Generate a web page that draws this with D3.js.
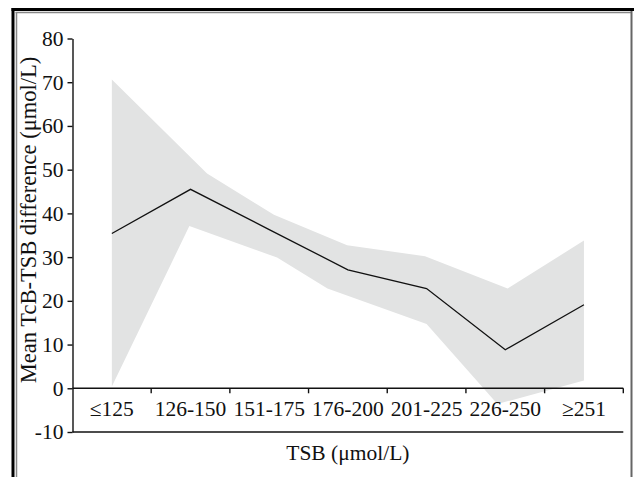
<!DOCTYPE html>
<html>
<head>
<meta charset="utf-8">
<script src="https://cdn.jsdelivr.net/npm/d3@7"></script>
<style>
  html, body { margin: 0; padding: 0; background: #fff; }
  svg { display: block; }
  text { font-family: "Liberation Serif", "Times New Roman", serif; fill: #111; }
</style>
</head>
<body>
<svg id="chart" width="634" height="477"></svg>
<script>
// ---- data ----
const categories = ["\u2264125", "126-150", "151-175", "176-200", "201-225", "226-250", "\u2265251"];
const meanValues = [35.4, 45.5, 36.3, 27.1, 22.8, 8.8, 19.1];
// confidence band vertices (position in category-index units, value)
const upperPos = [0, 1.21, 2.06, 2.99, 3.98, 5.03, 6];
const upperValues = [70.6, 49.1, 39.7, 32.7, 30.2, 22.8, 33.8];
const lowerPos = [0, 0.985, 2.1, 2.74, 4.0, 4.9, 6];
const lowerValues = [0.4, 37.1, 29.9, 22.8, 14.7, -3.6, 1.8];
const yTicks = [-10, 0, 10, 20, 30, 40, 50, 60, 70, 80];
const yLabel = "Mean TcB-TSB difference (\u03bcmol/L)";
const xLabel = "TSB (\u03bcmol/L)";

// ---- layout ----
const svg = d3.select("#chart");
const mLeft = 72.5, mRight = 623.3, mTop = 38.5, mBottom = 432;
const FS = "21.5px";

const xBand = d3.scaleBand().domain(categories).range([mLeft, mRight]).padding(0);
const bw = xBand.bandwidth();
const xIdx = d3.scaleLinear().domain([0, categories.length - 1]).range([mLeft + bw / 2, mRight - bw / 2]);
const y = d3.scaleLinear().domain([-10, 80]).range([mBottom, mTop]);

// ---- frame ----
const frame = svg.append("g");
frame.append("line").attr("x1", 11.5).attr("x2", 634).attr("y1", 9.5).attr("y2", 9.5)
  .attr("stroke", "#000").attr("stroke-width", 3);
frame.append("line").attr("x1", 13).attr("x2", 13).attr("y1", 8).attr("y2", 477)
  .attr("stroke", "#000").attr("stroke-width", 3);
frame.append("line").attr("x1", 15.5).attr("x2", 631).attr("y1", 12.5).attr("y2", 12.5)
  .attr("stroke", "#888").attr("stroke-width", 1.5);
frame.append("line").attr("x1", 16.5).attr("x2", 16.5).attr("y1", 12).attr("y2", 477)
  .attr("stroke", "#888").attr("stroke-width", 1.5);
frame.append("line").attr("x1", 631.5).attr("x2", 631.5).attr("y1", 11).attr("y2", 477)
  .attr("stroke", "#666").attr("stroke-width", 2);

// ---- band ----
const bandPts = upperPos.map((p, i) => [xIdx(p), y(upperValues[i])])
  .concat(lowerPos.map((p, i) => [xIdx(p), y(lowerValues[i])]).reverse());
svg.append("path")
  .attr("d", d3.line()(bandPts) + "Z")
  .attr("fill", "#e2e3e3").attr("stroke", "none");

// ---- mean line ----
svg.append("path")
  .datum(meanValues)
  .attr("d", d3.line().x((d, i) => xIdx(i)).y(d => y(d)))
  .attr("fill", "none").attr("stroke", "#111").attr("stroke-width", 1.3);

// ---- y axis ----
const yAxis = svg.append("g").attr("transform", `translate(${mLeft},0)`)
  .call(d3.axisLeft(y).tickValues(yTicks).tickFormat(d => String(d))
    .tickSize(5).tickSizeOuter(0).tickPadding(4));
yAxis.select(".domain").attr("stroke", "#111").attr("stroke-width", 1.4);
yAxis.selectAll(".tick line").attr("stroke", "#111").attr("stroke-width", 1.4);
yAxis.selectAll(".tick text").style("font-size", FS)
  .style("font-family", '"Liberation Serif", serif').attr("fill", "#111");

// ---- x axis at zero ----
const xAxisG = svg.append("g").attr("transform", `translate(0,${y(0)})`);
xAxisG.append("line").attr("x1", mLeft).attr("x2", mRight).attr("y1", 0).attr("y2", 0)
  .attr("stroke", "#111").attr("stroke-width", 1.4);
const boundaries = categories.slice(1).map(c => xBand(c)).concat([mRight]);
xAxisG.selectAll("line.tk").data(boundaries).enter().append("line").attr("class", "tk")
  .attr("x1", d => d).attr("x2", d => d).attr("y1", 0).attr("y2", 5)
  .attr("stroke", "#111").attr("stroke-width", 1.4);
xAxisG.selectAll("text.cat").data(categories).enter().append("text").attr("class", "cat")
  .attr("x", d => xBand(d) + bw / 2).attr("y", 28)
  .attr("text-anchor", "middle").style("font-size", FS).text(d => d);

// bottom line at -10
svg.append("line").attr("x1", mLeft).attr("x2", mRight).attr("y1", y(-10)).attr("y2", y(-10))
  .attr("stroke", "#111").attr("stroke-width", 1.4);

// ---- titles ----
svg.append("text").attr("x", (mLeft + mRight) / 2).attr("y", 460)
  .attr("text-anchor", "middle").style("font-size", FS).text(xLabel);
svg.append("text").attr("transform", "translate(35.5,220) rotate(-90)")
  .attr("text-anchor", "middle").style("font-size", "22.5px").text(yLabel);
</script>
</body>
</html>
